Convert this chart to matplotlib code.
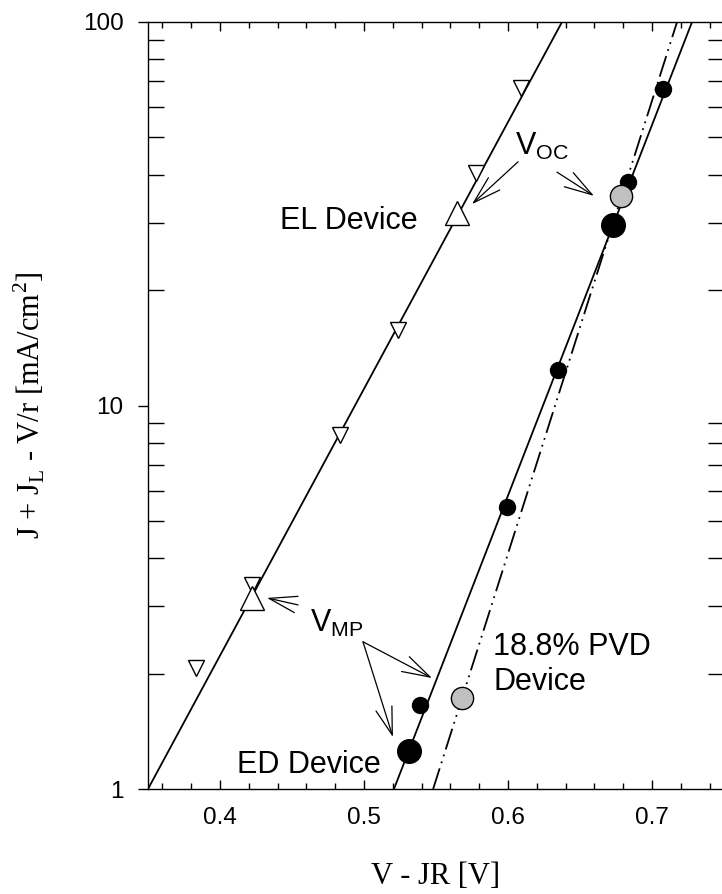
import numpy as np
import matplotlib
matplotlib.use('Agg')
import matplotlib.pyplot as plt
from matplotlib.ticker import MultipleLocator, FixedLocator, FixedFormatter, NullFormatter, LogLocator

plt.rcParams['font.family'] = ['Liberation Sans', 'DejaVu Sans']

# EL device data (open triangles)
el_v = [0.383, 0.4222, 0.4833, 0.5236, 0.5778, 0.609]
el_j = [2.07, 3.40, 8.38, 15.7, 40.4, 67.3]
el_mp = (0.4222, 3.15)
el_oc = (0.5646, 31.8)
el_fit_v = [0.35, 0.6375]
el_fit_j = [1.0, 100.0]

# ED device data (filled circles)
ed_v = [0.5389, 0.5993, 0.6347, 0.6833, 0.7076]
ed_j = [1.66, 5.44, 12.4, 38.3, 66.9]
ed_mp = (0.5313, 1.26)
ed_oc = (0.6729, 29.6)
ed_fit_v = [0.5208, 0.7278]
ed_fit_j = [1.0, 100.0]

# 18.8% PVD device (grey circles)
pvd_v = [0.568, 0.6785]
pvd_j = [1.73, 35.2]
pvd_fit_v = [0.548, 0.7174]
pvd_fit_j = [1.0, 100.0]

fig = plt.figure(figsize=(7.22, 8.94), dpi=100)
ax = fig.add_axes([148/722, 105/894, 576/722, 767/894])

ax.plot(el_fit_v, el_fit_j, color='black', lw=1.3)
ax.plot(ed_fit_v, ed_fit_j, color='black', lw=1.3)
ax.plot(pvd_fit_v, pvd_fit_j, color='black', lw=1.3, dashes=[12, 3, 1, 3, 1, 3])

ax.plot(el_v, el_j, 'v', ms=12, mfc='white', mec='black', mew=1.0)
ax.plot(*el_mp, '^', ms=17, mfc='white', mec='black', mew=1.0)
ax.plot(*el_oc, '^', ms=17, mfc='white', mec='black', mew=1.0)
ax.plot(ed_v, ed_j, 'o', ms=11.5, mfc='black', mec='black')
ax.plot(*ed_mp, 'o', ms=17, mfc='black', mec='black')
ax.plot(*ed_oc, 'o', ms=17, mfc='black', mec='black')
ax.plot(pvd_v, pvd_j, 'o', ms=16, mfc='#c0c0c0', mec='black', mew=1.0)

ax.set_yscale('log')
ax.set_xlim(0.35, 0.75)
ax.set_ylim(1, 100)

# labels on the plot
fs = 22
ax.text(0.4417, 28.9, 'EL Device', fontsize=fs, va='baseline')
ax.text(0.4118, 1.10, 'ED Device', fontsize=fs, va='baseline')
ax.text(0.5896, 2.236, '18.8% PVD', fontsize=fs, va='baseline')
ax.text(0.5896, 1.812, 'Device', fontsize=fs, va='baseline')
ax.text(0.6049, 45.0, r'V$_\mathregular{OC}$', fontsize=fs, va='baseline')
ax.text(0.4625, 2.567, r'V$_\mathregular{MP}$', fontsize=fs, va='baseline')

arrow = dict(arrowstyle='->,head_length=1.0,head_width=0.3', lw=0.9,
             color='black', shrinkA=0, shrinkB=0, mutation_scale=20)
ax.annotate('', xy=(0.575, 33.5), xytext=(0.607, 43.2), arrowprops=arrow)
ax.annotate('', xy=(0.6597, 35.2), xytext=(0.634, 40.6), arrowprops=arrow)
ax.annotate('', xy=(0.4326, 3.15), xytext=(0.4542, 3.02), arrowprops=arrow)
ax.annotate('', xy=(0.5472, 1.947), xytext=(0.4993, 2.42), arrowprops=arrow)
ax.annotate('', xy=(0.5201, 1.366), xytext=(0.4993, 2.42), arrowprops=arrow)

# ticks
ax.xaxis.set_major_locator(FixedLocator([0.4, 0.5, 0.6, 0.7]))
ax.xaxis.set_major_formatter(FixedFormatter(['0.4', '0.5', '0.6', '0.7']))
ax.xaxis.set_minor_locator(MultipleLocator(0.02))
ax.yaxis.set_major_locator(FixedLocator([1, 10, 100]))
ax.yaxis.set_major_formatter(FixedFormatter(['1', '10', '100']))
ax.yaxis.set_minor_locator(LogLocator(base=10, subs=np.arange(2, 10)))
ax.yaxis.set_minor_formatter(NullFormatter())

ax.tick_params(axis='x', which='major', direction='in', length=6.5, width=1,
               top=True, labelsize=17.5, pad=13)
ax.tick_params(axis='x', which='minor', direction='in', length=4.3, width=1, top=True)
ax.tick_params(axis='y', which='major', direction='out', length=7, width=1,
               right=True, labelsize=17.5, pad=10.5)
ax.tick_params(axis='y', which='minor', direction='in', length=11.5, width=1, right=True)
for s in ax.spines.values():
    s.set_linewidth(1.0)

ax.set_xlabel('V - JR [V]', fontsize=22, family='Liberation Serif')
ax.xaxis.set_label_coords(0.5, -0.095)
ax.set_ylabel(r'J + J$_\mathregular{L}$ - V/r [mA/cm$^\mathregular{2}$]',
              fontsize=22, family='Liberation Serif')
ax.yaxis.set_label_coords(-0.175, 0.5)

fig.savefig('out.png', dpi=100)
